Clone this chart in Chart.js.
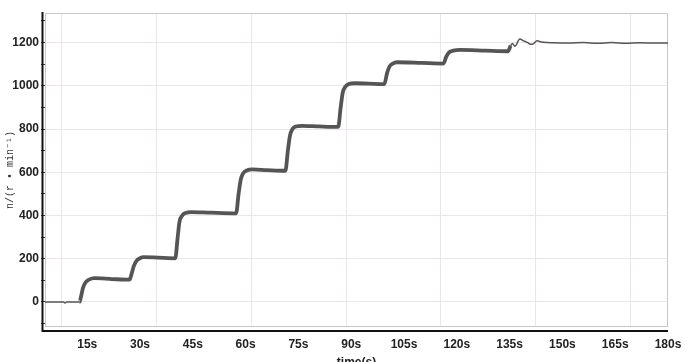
<!DOCTYPE html>
<html>
<head>
<meta charset="utf-8">
<script src="https://cdn.jsdelivr.net/npm/chart.js@4.4.0/dist/chart.umd.min.js"></script>
<style>
  body { margin: 0; background: #fff; }
  canvas { display: block; }
</style>
</head>
<body>
<canvas id="grafico" width="698" height="362"></canvas>
<script>
// ================== Dados ==================
// tempo (s) e rotação n (r/min)
const tempos = [3, 8.2, 8.7, 9.2, 12.8, 13.3, 13.8, 14.5, 15.5, 17, 22, 27,
  27.6, 28.2, 29, 30, 31, 35, 40,
  40.7, 41.2, 42, 43, 44.5, 50, 57.3,
  58.0, 58.6, 59.3, 60.3, 62, 66, 71.3,
  72.0, 72.6, 73.3, 74.3, 76, 81, 86.3,
  87.0, 87.6, 88.3, 89.3, 91, 95, 99.4,
  100.2, 100.9, 101.8, 103, 110, 116.2,
  117, 117.8, 119, 121, 128, 134.5,
  135.3, 135.8, 136.5, 137.9, 139, 139.9, 141, 141.6, 142.8, 144, 145.5, 147.3,
  152, 156, 160, 164, 168, 172, 176, 180];
const rotacao = [0, 0, -5, 0, 0, 30, 65, 90, 103, 110, 106, 103,
  130, 165, 190, 202, 207, 205, 202,
  300, 370, 400, 412, 416, 413, 410,
  500, 565, 595, 608, 613, 610, 607,
  700, 770, 800, 812, 815, 812, 810,
  900, 970, 995, 1008, 1012, 1010, 1008,
  1060, 1090, 1103, 1109, 1106, 1103,
  1135, 1155, 1163, 1166, 1163, 1160,
  1185, 1196, 1183, 1217, 1208, 1202, 1192, 1193, 1209, 1203, 1200, 1199,
  1198, 1200, 1197, 1200, 1197, 1199, 1198, 1198];

const xTicks = [15, 30, 45, 60, 75, 90, 105, 120, 135, 150, 165, 180];
const yTicks = [-100, 0, 100, 200, 300, 400, 500, 600, 700, 800, 900, 1000, 1100, 1200, 1300];
const yLabels = [0, 200, 400, 600, 800, 1000, 1200];
const gradeTempos = [7.8, 34.6, 61.6, 88.6, 115.5, 142.4, 169.3];

const pontos = tempos.map((t, i) => ({ x: t, y: rotacao[i] }));

const corGrade = '#ede4ed';
const fonteEixo = { family: 'Liberation Sans, Arial, sans-serif', size: 12, weight: 'bold' };

// ================== Moldura e eixos pretos ==================
const moldura = {
  id: 'moldura',
  beforeDatasetsDraw(chart) {
    const { ctx, chartArea: a } = chart;
    ctx.save();
    ctx.strokeStyle = '#c8c8c8';
    ctx.lineWidth = 1;
    ctx.strokeRect(a.left + 0.5, a.top + 0.5, a.right - a.left - 1, a.bottom - a.top - 1);
    ctx.strokeStyle = '#111';
    ctx.lineWidth = 2;
    ctx.beginPath();
    ctx.moveTo(a.left - 2.5, a.top - 1);
    ctx.lineTo(a.left - 2.5, a.bottom + 4);
    ctx.lineTo(a.right, a.bottom + 4);
    ctx.stroke();
    ctx.restore();
  }
};

// ================== Gráfico ==================
new Chart(document.getElementById('grafico'), {
  type: 'line',
  data: {
    datasets: [{
      data: pontos,
      borderColor: '#555555',
      borderWidth: 1.5,
      pointRadius: 0,
      cubicInterpolationMode: 'monotone',
      segment: {
        borderWidth: ctx => (ctx.p0.parsed.x >= 12.8 && ctx.p0.parsed.x < 135) ? 3.8 : 1.5
      }
    }]
  },
  options: {
    responsive: false,
    animation: false,
    layout: { padding: { top: 13, right: 30, left: 0, bottom: 0 } },
    plugins: { legend: { display: false }, tooltip: { enabled: false } },
    scales: {
      x: {
        type: 'linear',
        min: 3,
        max: 180,
        afterBuildTicks: s => { s.ticks = xTicks.map(v => ({ value: v })); },
        afterFit: s => { s.height = 35; },
        grid: { display: false, drawTicks: false },
        border: { display: false },
        ticks: {
          autoSkip: false,
          maxRotation: 0,
          padding: 10,
          color: '#222',
          font: fonteEixo,
          callback: v => v + 's'
        },
        title: {
          display: true,
          text: 'time(s)',
          color: '#222',
          font: fonteEixo,
          padding: { top: 0, bottom: -8 }
        }
      },
      x2: {
        type: 'linear',
        position: 'bottom',
        min: 3,
        max: 180,
        afterBuildTicks: s => { s.ticks = gradeTempos.map(v => ({ value: v })); },
        afterFit: s => { s.height = 0; },
        grid: { color: corGrade, drawTicks: false },
        border: { display: false },
        ticks: { display: false }
      },
      y: {
        type: 'linear',
        min: -116,
        max: 1337,
        afterBuildTicks: s => { s.ticks = yTicks.map(v => ({ value: v })); },
        afterFit: s => { s.width = 45; },
        grid: {
          color: c => yLabels.includes(c.tick.value) ? corGrade : 'rgba(0,0,0,0)',
          tickColor: '#333',
          tickLength: 4
        },
        border: { display: false },
        ticks: {
          autoSkip: false,
          padding: 2,
          color: '#222',
          font: fonteEixo,
          callback: v => yLabels.includes(v) ? String(v) : ''
        },
        title: {
          display: true,
          text: 'n/(r • min⁻¹)',
          color: '#333',
          font: { family: 'Liberation Mono, monospace', size: 10 },
          padding: { top: 4, bottom: 0 }
        }
      }
    }
  },
  plugins: [moldura]
});
</script>
</body>
</html>
